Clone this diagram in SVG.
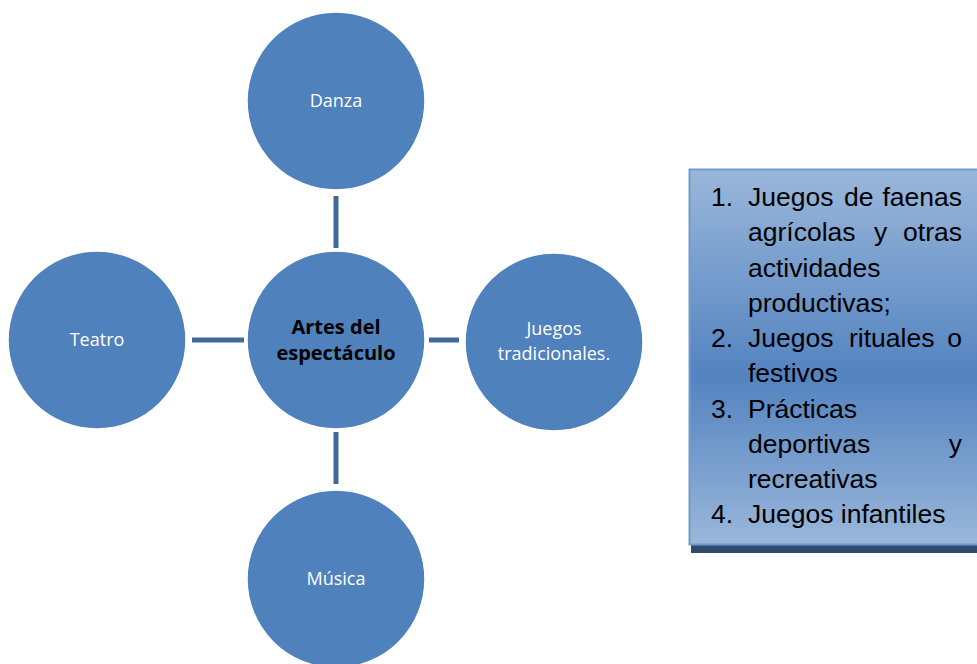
<svg xmlns="http://www.w3.org/2000/svg" width="977" height="664" viewBox="0 0 977 664">
<style>
.node circle{fill:#4F81BD;stroke:#FFFFFF;stroke-width:1.5}
.lbl{font-family:"Open Sans","Noto Sans",sans-serif;font-size:18px;fill:#FFFFFF;text-anchor:middle}
.bold{font-family:"Open Sans","Noto Sans",sans-serif;font-size:20px;font-weight:bold;fill:#000000;text-anchor:middle}
.conn line{stroke:#41699A;stroke-width:5}
.lst{font-family:"Liberation Sans",Arial,sans-serif;font-size:26.5px;fill:#000000}
.e{text-anchor:end}
</style>
<defs>
<linearGradient id="boxg" x1="0" y1="0" x2="0" y2="1">
<stop offset="0" stop-color="#9AB7DA"/>
<stop offset="0.55" stop-color="#5383C0"/>
<stop offset="1" stop-color="#9AB7DA"/>
</linearGradient>
</defs>
<rect width="977" height="664" fill="#FFFFFF"/>
<g id="connectors" class="conn">
<line x1="336" y1="196" x2="336" y2="248"/>
<line x1="336" y1="432" x2="336" y2="484"/>
<line x1="192" y1="340" x2="244" y2="340"/>
<line x1="429" y1="340" x2="459" y2="340"/>
</g>
<g id="n-danza" class="node">
<circle cx="336" cy="101" r="89"/>
<text class="lbl" x="336" y="107">Danza</text>
</g>
<g id="n-artes" class="node">
<circle cx="336" cy="340" r="89"/>
<text class="bold" x="336" y="334">Artes del</text>
<text class="bold" x="336" y="360">espectáculo</text>
</g>
<g id="n-teatro" class="node">
<circle cx="97" cy="340" r="89"/>
<text class="lbl" x="97" y="346">Teatro</text>
</g>
<g id="n-juegos" class="node">
<circle cx="554" cy="342" r="89"/>
<text class="lbl" x="554" y="335">Juegos</text>
<text class="lbl" x="554" y="360">tradicionales.</text>
</g>
<g id="n-musica" class="node">
<circle cx="336" cy="579" r="89"/>
<text class="lbl" x="336" y="585">Música</text>
</g>
<g id="list-box">
<rect x="691" y="545" width="300" height="8" fill="#2F4B72"/>
<rect x="689.5" y="169.5" width="300" height="375" fill="url(#boxg)" stroke="#7399C9" stroke-width="2"/>
<g class="lst">
<text x="711" y="206">1.</text>
<text x="748" y="206">Juegos</text>
<text x="844" y="206">de</text>
<text class="e" x="962" y="206">faenas</text>
<text x="748" y="241">agrícolas</text>
<text x="874" y="241">y</text>
<text class="e" x="962" y="241">otras</text>
<text x="748" y="277">actividades</text>
<text x="748" y="312">productivas;</text>
<text x="711" y="347">2.</text>
<text x="748" y="347">Juegos</text>
<text x="849" y="347">rituales</text>
<text class="e" x="962" y="347">o</text>
<text x="748" y="382">festivos</text>
<text x="711" y="418">3.</text>
<text x="748" y="418">Prácticas</text>
<text x="748" y="453">deportivas</text>
<text class="e" x="962" y="453">y</text>
<text x="748" y="488">recreativas</text>
<text x="711" y="523">4.</text>
<text x="748" y="523">Juegos infantiles</text>
</g>
</g>
</svg>
